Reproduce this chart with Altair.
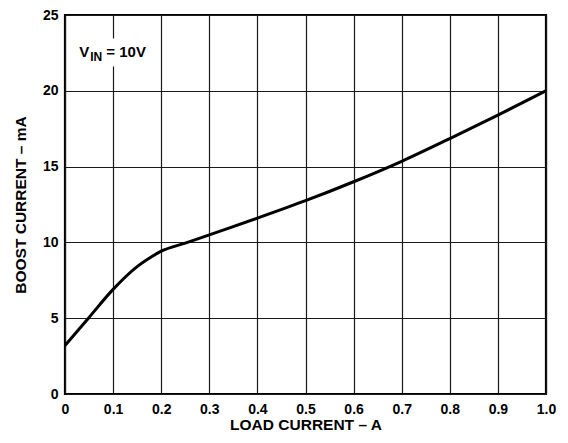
import altair as alt
import pandas as pd

# Data
load_current = [0.0, 0.05, 0.1, 0.15, 0.18, 0.2, 0.25, 0.3, 0.4, 0.5, 0.6, 0.7, 0.8, 0.9, 1.0]
boost_current = [3.2, 5.05, 6.9, 8.4, 9.05, 9.42, 9.95, 10.5, 11.6, 12.75, 14.0, 15.35, 16.85, 18.4, 20.0]
x_ticks = [0, 0.1, 0.2, 0.3, 0.4, 0.5, 0.6, 0.7, 0.8, 0.9, 1.0]
y_ticks = [0, 5, 10, 15, 20, 25]
x_title = "LOAD CURRENT – A"
y_title = "BOOST CURRENT – mA"

FONT = "Liberation Sans, Arial, Helvetica, sans-serif"

df = pd.DataFrame({"load": load_current, "boost": boost_current})

xs = alt.Scale(domain=[0, 1], nice=False, zero=False)
ys = alt.Scale(domain=[0, 25], nice=False)

common = dict(
    ticks=False,
    domain=False,
    grid=True,
    gridColor="#1a1a1a",
    gridWidth=1.2,
    gridOpacity=1,
    labelFont=FONT,
    labelFontSize=14,
    labelFontWeight="bold",
    labelColor="black",
    labelFlush=False,
    labelOverlap=False,
    titleFont=FONT,
    titleFontSize=15.5,
    titleFontWeight="bold",
    titleColor="black",
)

x_axis = alt.Axis(
    values=x_ticks,
    labelExpr="datum.value == 0 ? '0' : format(datum.value, '.1f')",
    title=x_title,
    labelPadding=8,
    titlePadding=1,
    **common,
)
y_axis = alt.Axis(
    values=y_ticks,
    format="d",
    title=y_title,
    labelPadding=7,
    titlePadding=14,
    **common,
)

line = alt.Chart(df).mark_line(color="black", strokeWidth=3, interpolate="monotone").encode(
    x=alt.X("load:Q", scale=xs, axis=x_axis),
    y=alt.Y("boost:Q", scale=ys, axis=y_axis),
)

box = alt.Chart(pd.DataFrame({"a": [0]})).mark_rect(color="white").encode(
    x=alt.datum(0.012, scale=xs),
    x2=alt.datum(0.19),
    y=alt.datum(21.6, scale=ys),
    y2=alt.datum(23.45),
)

ann_main = alt.Chart(pd.DataFrame({"a": [0]})).mark_text(
    text="V", font=FONT, fontSize=15, fontWeight="bold", color="black",
    align="left", baseline="alphabetic",
).encode(x=alt.datum(0.0297, scale=xs), y=alt.datum(22.24, scale=ys))

ann_sub = alt.Chart(pd.DataFrame({"a": [0]})).mark_text(
    text="IN", font=FONT, fontSize=12, fontWeight="bold", color="black",
    align="left", baseline="alphabetic", dx=11, dy=4,
).encode(x=alt.datum(0.0297, scale=xs), y=alt.datum(22.24, scale=ys))

ann_rest = alt.Chart(pd.DataFrame({"a": [0]})).mark_text(
    text="= 10V", font=FONT, fontSize=15, fontWeight="bold", color="black",
    align="left", baseline="alphabetic", dx=27,
).encode(x=alt.datum(0.0297, scale=xs), y=alt.datum(22.24, scale=ys))

chart = alt.layer(box, line, ann_main, ann_sub, ann_rest).properties(
    width=481,
    height=379,
    autosize=alt.AutoSizeParams(type="none"),
    padding={"left": 57, "top": 7, "right": 14, "bottom": 41},
    background="white",
).configure_view(
    stroke="black",
    strokeWidth=2.2,
)

chart.save("out.html", embed_options={"renderer": "svg", "actions": False})
